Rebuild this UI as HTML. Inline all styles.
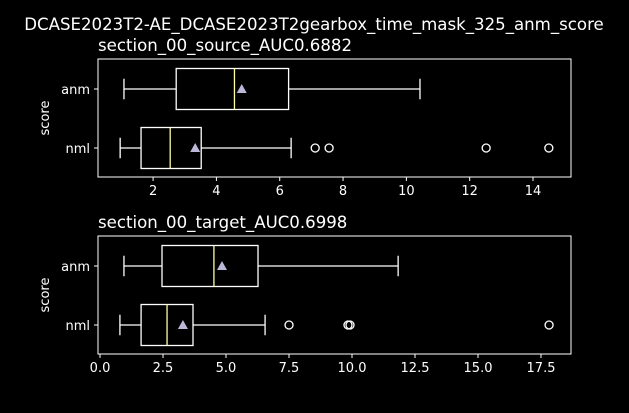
<!DOCTYPE html>
<html><head><meta charset="utf-8"><style>
body{margin:0;background:#000;}
svg{display:block;font-family:"DejaVu Sans","Liberation Sans",sans-serif;}
</style></head><body>
<svg id="c" width="629" height="413" viewBox="0 0 629 413">
<rect width="629" height="413" fill="#000"/>
<text x="314" y="30" fill="#fff" font-size="16.6" text-anchor="middle">DCASE2023T2-AE_DCASE2023T2gearbox_time_mask_325_anm_score</text>
</svg>
<script>
const categories = ["anm","nml"];
const panelTitles = ["section_00_source_AUC0.6882","section_00_target_AUC0.6998"];
// per panel, per category: [whiskerLow, q1, median, q3, whiskerHigh, mean]
const sourceStats = [[1.08,2.73,4.57,6.28,10.43,4.8],[0.96,1.62,2.54,3.52,6.36,3.33]];
const sourceOutliers = [[],[7.12,7.56,12.52,14.5]];
const targetStats = [[0.95,2.46,4.52,6.27,11.83,4.84],[0.79,1.63,2.66,3.69,6.55,3.29]];
const targetOutliers = [[],[7.5,9.84,9.92,17.82]];
const sourceTicks = [2,4,6,8,10,12,14];
const targetTicks = [0,2.5,5,7.5,10,12.5,15,17.5];
const sourceTickLabels = ["2","4","6","8","10","12","14"];
const targetTickLabels = ["0.0","2.5","5.0","7.5","10.0","12.5","15.0","17.5"];

const svg=document.getElementById('c');
const NS="http://www.w3.org/2000/svg";
function mk(t,a,parent){const e=document.createElementNS(NS,t);for(const k in a)e.setAttribute(k,a[k]);(parent||svg).appendChild(e);return e;}

function panel(idx,top,title,stats,outl,ticks,labels,xmin,xmax){
  const L=98,R=571,T=top,B=top+118;
  const g=mk('g',{});
  
  
  const x=v=>L+(v-xmin)/(xmax-xmin)*(R-L);
  const rowY=[T+30,T+89];
  let t=mk('text',{x:L,y:T-8,fill:'#fff','font-size':16.6},g);t.textContent=title;
  
  
  let yl=mk('text',{x:0,y:0,fill:'#fff','font-size':13,'text-anchor':'middle',transform:`translate(49,${(T+B)/2}) rotate(-90)`},g);yl.textContent='score';
  
  
  ticks.forEach((v,i)=>{
    mk('line',{x1:x(v),x2:x(v),y1:B,y2:B+4,stroke:'#fff'},g);
    const tl=mk('text',{x:x(v),y:B+18,fill:'#fff','font-size':13,'text-anchor':'middle'},g);tl.textContent=labels[i];
    
    
  });
  categories.forEach((c,i)=>{
    const y=rowY[i],s=stats[i],h=20.5;
    mk('line',{x1:L-4,x2:L,y1:y,y2:y,stroke:'#fff'},g);
    const cl=mk('text',{x:L-8,y:y+5,fill:'#fff','font-size':13,'text-anchor':'end'},g);cl.textContent=c;
    
    
    mk('line',{x1:x(s[0]),x2:x(s[1]),y1:y,y2:y,stroke:'#fff','stroke-width':1.3},g);
    mk('line',{x1:x(s[3]),x2:x(s[4]),y1:y,y2:y,stroke:'#fff','stroke-width':1.3},g);
    mk('line',{x1:x(s[0]),x2:x(s[0]),y1:y-h/2,y2:y+h/2,stroke:'#fff','stroke-width':1.3},g);
    mk('line',{x1:x(s[4]),x2:x(s[4]),y1:y-h/2,y2:y+h/2,stroke:'#fff','stroke-width':1.3},g);
    const b=mk('rect',{x:x(s[1]),y:y-h,width:x(s[3])-x(s[1]),height:2*h,fill:'none',stroke:'#fff','stroke-width':1.3},g);
    
    
    mk('line',{x1:x(s[2]),x2:x(s[2]),y1:y-h,y2:y+h,stroke:'#ffffa0','stroke-width':1.3},g);
    const mx=x(s[5]);
    const m=mk('polygon',{points:`${mx},${y-5} ${mx-5},${y+4} ${mx+5},${y+4}`,fill:'#bcb8da'},g);
    
    
    outl[i].forEach(v=>{
      const o=mk('circle',{cx:x(v),cy:y,r:4,fill:'none',stroke:'#fff','stroke-width':1.3},g);
      
      
    });
  });
  mk('rect',{x:L,y:T,width:R-L,height:B-T,fill:'none',stroke:'#fff','stroke-width':1},g);
}
panel(0,59,panelTitles[0],sourceStats,sourceOutliers,sourceTicks,sourceTickLabels,0.26,15.2);
panel(1,236,panelTitles[1],targetStats,targetOutliers,targetTicks,targetTickLabels,-0.08,18.69);
</script>
</body></html>
